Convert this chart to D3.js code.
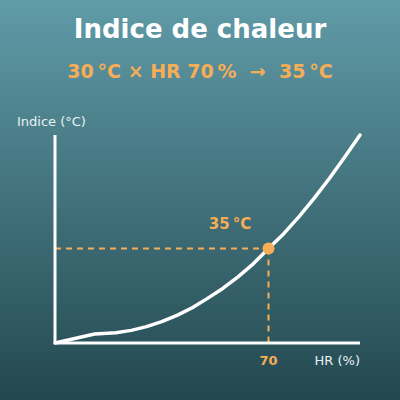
<!DOCTYPE html>
<html>
<head>
<meta charset="utf-8">
<script src="https://cdn.jsdelivr.net/npm/d3@7"></script>
<style>
  html, body { margin: 0; padding: 0; }
  body { width: 400px; height: 400px; overflow: hidden; }
  svg { display: block; font-family: "DejaVu Sans", sans-serif; }
  text { white-space: pre; }
</style>
</head>
<body>
<div id="chart"></div>
<script>
// Heat index curve at 30 °C
const humidity = [0, 13, 20, 25, 30, 35, 40, 45, 50, 55, 60, 65, 70, 75, 80, 85, 90, 95, 100];
const heatIndex = [27.5, 28.21, 28.31, 28.5, 28.8, 29.19, 29.69, 30.3, 31.04, 31.83, 32.75, 33.78,
    35, 36.17, 37.53, 38.99, 40.57, 42.26, 44];
const marker = { hr: 70, value: 35 };
const xDomain = [0, 100];
const yDomain = [27.5, 44];

const width = 400;
const height = 400;
const margin = { left: 55, right: 40, top: 135, bottom: 57 };
const orange = '#f6ad55';

const svg = d3.select('#chart')
    .append('svg')
    .attr('width', width)
    .attr('height', height);

// Background gradient
const grad = svg.append('defs')
    .append('linearGradient')
    .attr('id', 'bg')
    .attr('x1', 0).attr('y1', 0)
    .attr('x2', 0).attr('y2', 1);
grad.append('stop').attr('offset', '0%').attr('stop-color', '#609ba8');
grad.append('stop').attr('offset', '100%').attr('stop-color', '#23484f');

svg.append('rect')
    .attr('width', width)
    .attr('height', height)
    .attr('fill', 'url(#bg)');

const xScale = d3.scaleLinear()
    .domain(xDomain)
    .range([margin.left, width - margin.right]);

const yScale = d3.scaleLinear()
    .domain(yDomain)
    .range([height - margin.bottom, margin.top]);

// Titles
svg.append('text')
    .attr('x', width / 2)
    .attr('y', 38)
    .attr('text-anchor', 'middle')
    .attr('font-size', '26px')
    .attr('font-weight', 'bold')
    .attr('fill', '#ffffff')
    .text('Indice de chaleur');

svg.append('text')
    .attr('x', width / 2)
    .attr('y', 78)
    .attr('text-anchor', 'middle')
    .attr('font-size', '19px')
    .attr('font-weight', 'bold')
    .attr('fill', orange)
    .text('30\u202F°C × HR 70\u202F%  →  35\u202F°C');

// Dashed guides to the marker
const mx = xScale(marker.hr);
const my = yScale(marker.value);

svg.append('line')
    .attr('x1', xScale(xDomain[0]))
    .attr('x2', mx)
    .attr('y1', my)
    .attr('y2', my)
    .attr('stroke', orange)
    .attr('stroke-width', 2)
    .attr('stroke-dasharray', '6,5');

svg.append('line')
    .attr('x1', mx)
    .attr('x2', mx)
    .attr('y1', my)
    .attr('y2', yScale(yDomain[0]))
    .attr('stroke', orange)
    .attr('stroke-width', 2)
    .attr('stroke-dasharray', '6,5');

// Axes (plain lines)
svg.append('line')
    .attr('x1', xScale(xDomain[0]))
    .attr('x2', xScale(xDomain[0]))
    .attr('y1', yScale(yDomain[1]))
    .attr('y2', yScale(yDomain[0]))
    .attr('stroke', '#ffffff')
    .attr('stroke-width', 3);

svg.append('line')
    .attr('x1', xScale(xDomain[0]))
    .attr('x2', xScale(xDomain[1]))
    .attr('y1', yScale(yDomain[0]))
    .attr('y2', yScale(yDomain[0]))
    .attr('stroke', '#ffffff')
    .attr('stroke-width', 3);

// Curve
const line = d3.line()
    .x((d, i) => xScale(humidity[i]))
    .y(d => yScale(d));

svg.append('path')
    .datum(heatIndex)
    .attr('d', line)
    .attr('fill', 'none')
    .attr('stroke', '#ffffff')
    .attr('stroke-width', 3.5)
    .attr('stroke-linecap', 'round')
    .attr('stroke-linejoin', 'round');

// Marker
svg.append('circle')
    .attr('cx', mx)
    .attr('cy', my)
    .attr('r', 6)
    .attr('fill', orange);

svg.append('text')
    .attr('x', mx - 38.5)
    .attr('y', my - 19)
    .attr('text-anchor', 'middle')
    .attr('font-size', '15px')
    .attr('font-weight', 'bold')
    .attr('fill', orange)
    .text(marker.value + '\u202F°C');

svg.append('text')
    .attr('x', mx)
    .attr('y', yScale(yDomain[0]) + 22)
    .attr('text-anchor', 'middle')
    .attr('font-size', '13px')
    .attr('font-weight', 'bold')
    .attr('fill', orange)
    .text(marker.hr);

// Axis labels
svg.append('text')
    .attr('x', xScale(xDomain[1]))
    .attr('y', yScale(yDomain[0]) + 22)
    .attr('text-anchor', 'end')
    .attr('font-size', '13px')
    .attr('fill', '#e8f2f4')
    .text('HR (%)');

svg.append('text')
    .attr('x', 17)
    .attr('y', yScale(yDomain[1]) - 9)
    .attr('font-size', '13px')
    .attr('fill', '#e8f2f4')
    .text('Indice (°C)');
</script>
</body>
</html>
